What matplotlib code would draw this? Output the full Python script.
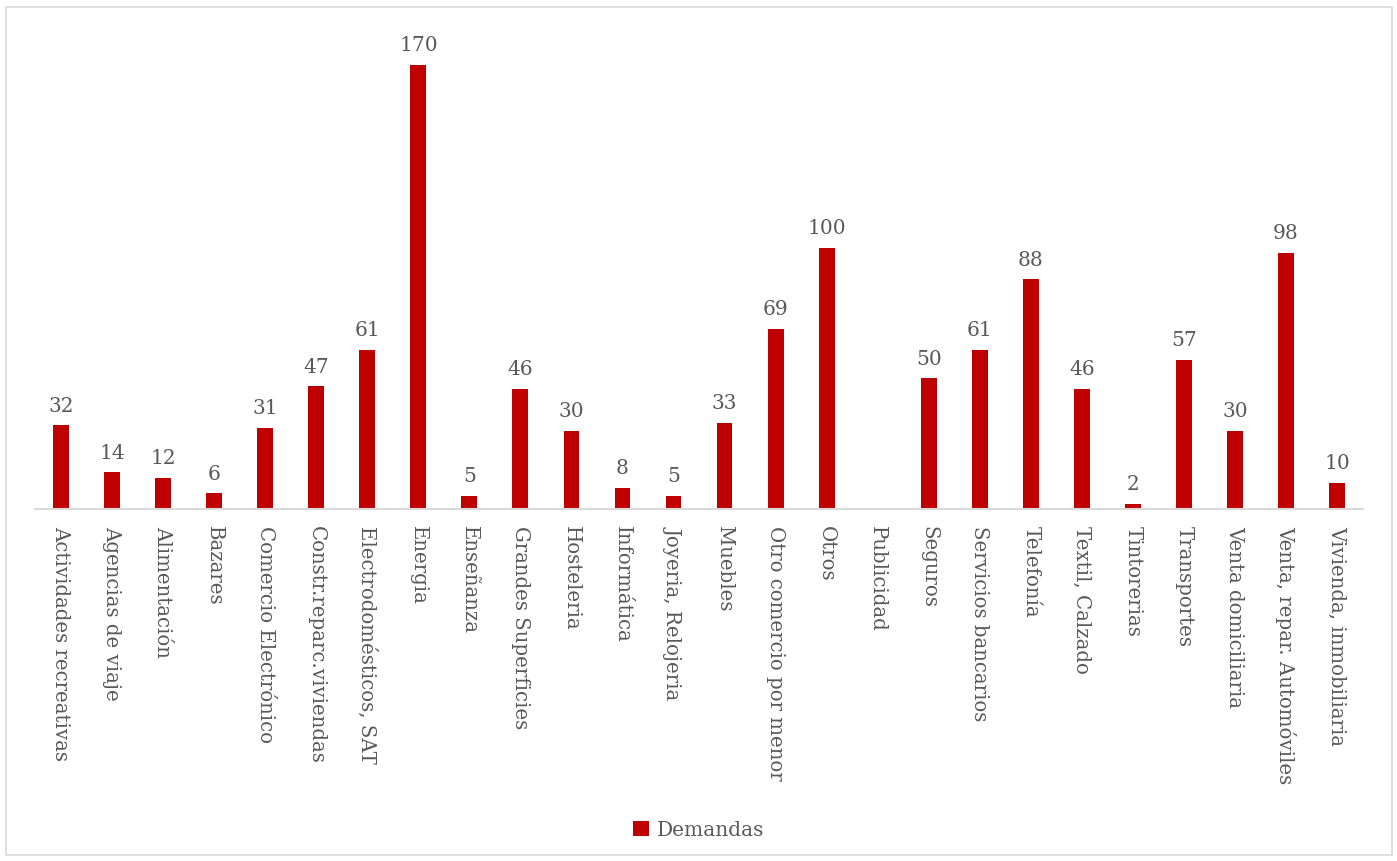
import numpy as np
import matplotlib.pyplot as plt
from matplotlib.patches import Rectangle

categories = ['Actividades recreativas', 'Agencias de viaje', 'Alimentación', 'Bazares',
              'Comercio Electrónico', 'Constr.reparc.viviendas', 'Electrodomésticos, SAT',
              'Energia', 'Enseñanza', 'Grandes Superficies', 'Hosteleria', 'Informática',
              'Joyeria, Relojeria', 'Muebles', 'Otro comercio por menor', 'Otros',
              'Publicidad', 'Seguros', 'Servicios bancarios', 'Telefonía', 'Textil, Calzado',
              'Tintorerias', 'Transportes', 'Venta domiciliaria', 'Venta, repar. Automóviles',
              'Vivienda, inmobiliaria']
demandas = [32, 14, 12, 6, 31, 47, 61, 170, 5, 46, 30, 8, 5, 33, 69, 100,
            None, 50, 61, 88, 46, 2, 57, 30, 98, 10]

bar_color = '#C00000'
text_color = '#595959'
plt.rcParams['font.family'] = ['DejaVu Serif']

fig = plt.figure(figsize=(13.97, 8.61), dpi=100)
ax = fig.add_axes([0.0254, 0.4088, 0.95, 0.5459])

x = np.arange(len(categories))
vals = np.array([np.nan if v is None else v for v in demandas], dtype=float)
bars = ax.bar(x, np.nan_to_num(vals), width=0.31, color=bar_color, label='Demandas')

# data labels (Publicidad has no value)
for xi, v in zip(x, demandas):
    if v is None:
        continue
    ax.annotate(str(v), (xi, v), xytext=(0, 7), textcoords='offset points',
                ha='center', va='bottom', fontsize=14.5, color=text_color)

ax.set_xlim(-0.5, len(categories) - 0.5)
ax.set_ylim(0, 180)
ax.set_xticks(x)
ax.set_xticklabels(categories, rotation=-90, fontsize=14.2, color=text_color,
                   va='top', ha='center')
ax.tick_params(axis='x', length=0, pad=12)
ax.set_yticks([])
for s in ['top', 'right', 'left']:
    ax.spines[s].set_visible(False)
ax.spines['bottom'].set_color('#D9D9D9')
ax.spines['bottom'].set_linewidth(1.5)

fig.legend(handles=[bars], labels=['Demandas'], loc='center', bbox_to_anchor=(0.5, 1 - 830 / 861),
           frameon=False, fontsize=14.5, labelcolor=text_color, handlelength=0.8,
           handleheight=0.8, handletextpad=0.4)

fig.patches.append(Rectangle((6 / 1397, 6 / 861), 1386 / 1397, 848 / 861,
                             transform=fig.transFigure, fill=False,
                             edgecolor='#D9D9D9', linewidth=1.2))

fig.savefig('out.png', dpi=100)
